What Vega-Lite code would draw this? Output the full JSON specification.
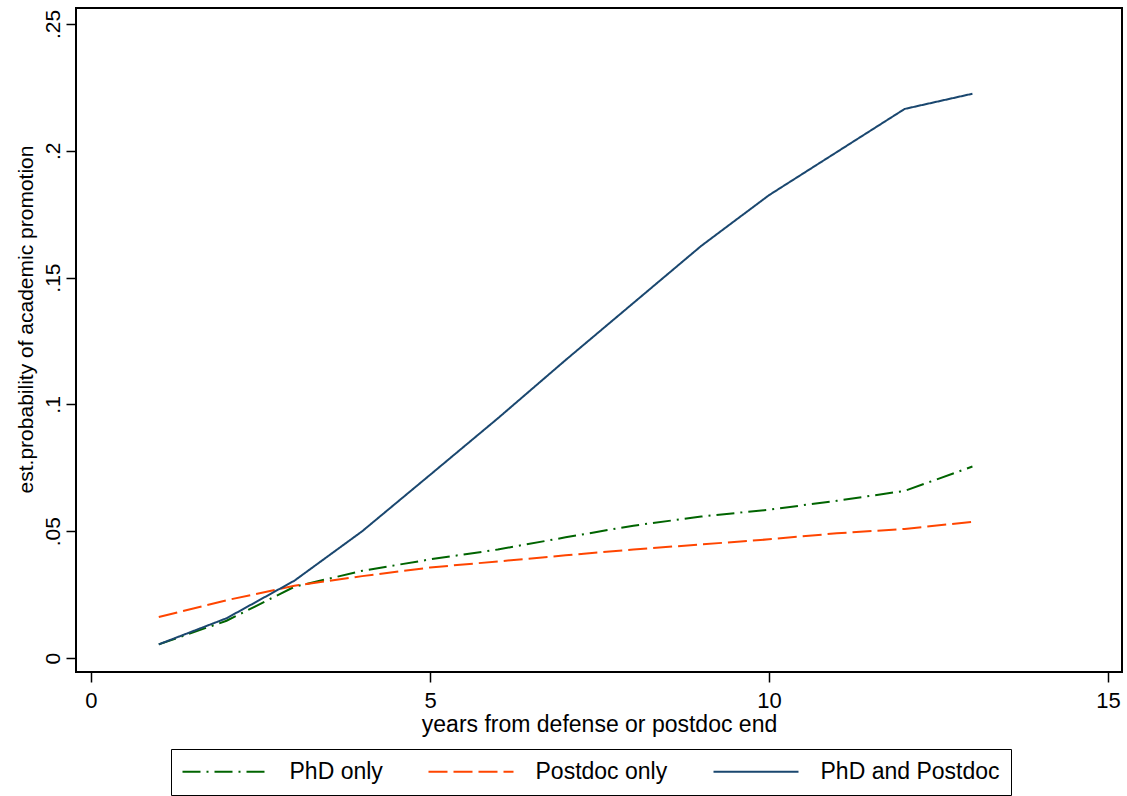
{
  "$schema": "https://vega.github.io/schema/vega-lite/v6.json",
  "autosize": "none",
  "width": 1046,
  "height": 664,
  "padding": {"left": 76, "top": 8, "right": 5, "bottom": 124},
  "background": "white",
  "config": {
    "font": "Liberation Sans",
    "view": {"stroke": "black", "strokeWidth": 2},
    "axis": {
      "domain": false,
      "grid": false,
      "tickColor": "black",
      "tickWidth": 1.5,
      "tickSize": 10,
      "labelColor": "black",
      "titleColor": "black",
      "labelFont": "Liberation Sans",
      "titleFont": "Liberation Sans",
      "titleFontWeight": "normal"
    },
    "legend": {
      "labelFont": "Liberation Sans",
      "labelFontSize": 23,
      "labelColor": "black",
      "labelLimit": 400
    }
  },
  "data": {
    "values": [
      {"x": 1, "y": 0.0054, "series": "PhD only"},
      {"x": 2, "y": 0.0147, "series": "PhD only"},
      {"x": 3, "y": 0.0281, "series": "PhD only"},
      {"x": 4, "y": 0.0344, "series": "PhD only"},
      {"x": 5, "y": 0.0389, "series": "PhD only"},
      {"x": 6, "y": 0.0428, "series": "PhD only"},
      {"x": 7, "y": 0.0476, "series": "PhD only"},
      {"x": 8, "y": 0.0522, "series": "PhD only"},
      {"x": 9, "y": 0.0558, "series": "PhD only"},
      {"x": 10, "y": 0.0585, "series": "PhD only"},
      {"x": 11, "y": 0.062, "series": "PhD only"},
      {"x": 12, "y": 0.0659, "series": "PhD only"},
      {"x": 13, "y": 0.0755, "series": "PhD only"},
      {"x": 1, "y": 0.0162, "series": "Postdoc only"},
      {"x": 2, "y": 0.0228, "series": "Postdoc only"},
      {"x": 3, "y": 0.0285, "series": "Postdoc only"},
      {"x": 4, "y": 0.0323, "series": "Postdoc only"},
      {"x": 5, "y": 0.0357, "series": "Postdoc only"},
      {"x": 6, "y": 0.0381, "series": "Postdoc only"},
      {"x": 7, "y": 0.0405, "series": "Postdoc only"},
      {"x": 8, "y": 0.0428, "series": "Postdoc only"},
      {"x": 9, "y": 0.0448, "series": "Postdoc only"},
      {"x": 10, "y": 0.0468, "series": "Postdoc only"},
      {"x": 11, "y": 0.0492, "series": "Postdoc only"},
      {"x": 12, "y": 0.0509, "series": "Postdoc only"},
      {"x": 13, "y": 0.0537, "series": "Postdoc only"},
      {"x": 1, "y": 0.0054, "series": "PhD and Postdoc"},
      {"x": 2, "y": 0.0157, "series": "PhD and Postdoc"},
      {"x": 3, "y": 0.0305, "series": "PhD and Postdoc"},
      {"x": 4, "y": 0.05, "series": "PhD and Postdoc"},
      {"x": 5, "y": 0.0722, "series": "PhD and Postdoc"},
      {"x": 6, "y": 0.0945, "series": "PhD and Postdoc"},
      {"x": 7, "y": 0.1175, "series": "PhD and Postdoc"},
      {"x": 8, "y": 0.14, "series": "PhD and Postdoc"},
      {"x": 9, "y": 0.1625, "series": "PhD and Postdoc"},
      {"x": 10, "y": 0.1825, "series": "PhD and Postdoc"},
      {"x": 11, "y": 0.1995, "series": "PhD and Postdoc"},
      {"x": 12, "y": 0.2165, "series": "PhD and Postdoc"},
      {"x": 13, "y": 0.2225, "series": "PhD and Postdoc"}
    ]
  },
  "mark": {"type": "line", "strokeWidth": 2, "clip": true},
  "encoding": {
    "x": {
      "field": "x",
      "type": "quantitative",
      "scale": {"domain": [-0.221, 15.206], "nice": false, "zero": false},
      "axis": {
        "values": [0, 5, 10, 15],
        "format": "d",
        "labelFontSize": 22,
        "labelPadding": 8,
        "title": "years from defense or postdoc end",
        "titleFontSize": 23,
        "titlePadding": 2
      }
    },
    "y": {
      "field": "y",
      "type": "quantitative",
      "scale": {"domain": [-0.0055, 0.2563], "nice": false, "zero": false},
      "axis": {
        "values": [0, 0.05, 0.1, 0.15, 0.2, 0.25],
        "labelExpr": "datum.value == 0 ? '0' : substring(format(datum.value, '.2~f'), 1)",
        "labelAngle": -90,
        "labelAlign": "center",
        "labelBaseline": "bottom",
        "labelFontSize": 21,
        "labelPadding": 3,
        "title": "est.probability of academic promotion",
        "titleFontSize": 21,
        "titlePadding": 6,
        "titleY": 311
      }
    },
    "color": {
      "field": "series",
      "type": "nominal",
      "scale": {
        "domain": ["PhD only", "Postdoc only", "PhD and Postdoc"],
        "range": ["#006400", "#ff4500", "#1a476f"]
      },
      "legend": {
        "title": null,
        "orient": "none",
        "legendX": 95,
        "legendY": 741,
        "direction": "horizontal",
        "columns": 3,
        "columnPadding": 41,
        "padding": 11,
        "strokeColor": "black",
        "symbolType": "M-4.25,0H4.25",
        "symbolSize": 400,
        "symbolStrokeWidth": 2,
        "symbolOffset": 31.5,
        "labelOffset": 53,
        "labelLimit": 400
      }
    },
    "strokeDash": {
      "field": "series",
      "type": "nominal",
      "scale": {
        "domain": ["PhD only", "Postdoc only", "PhD and Postdoc"],
        "range": [[18, 6, 2, 6], [19, 6], [1, 0]]
      },
      "legend": {
        "title": null,
        "orient": "none",
        "legendX": 95,
        "legendY": 741,
        "direction": "horizontal",
        "columns": 3,
        "columnPadding": 41,
        "padding": 11,
        "strokeColor": "black",
        "symbolType": "M-4.25,0H4.25",
        "symbolSize": 400,
        "symbolStrokeWidth": 2,
        "symbolOffset": 31.5,
        "labelOffset": 53,
        "labelLimit": 400
      }
    }
  }
}
